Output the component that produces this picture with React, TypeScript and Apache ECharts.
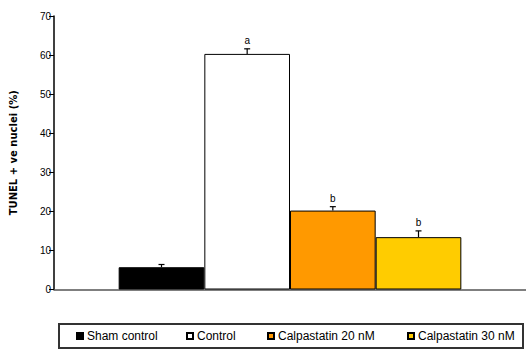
import React, { useEffect, useRef } from "react";
import * as echarts from "echarts";

const seriesNames = ["Sham control", "Control", "Calpastatin 20 nM", "Calpastatin 30 nM"];
const meanValues = [5.7, 60.3, 20.2, 13.4];
const errorValues = [0.7, 1.3, 1.0, 1.6];
const sigLetters = ["", "a", "b", "b"];
const barColors = ["#000000", "#FFFFFF", "#FF9900", "#FFCC00"];
const yTicks = { min: 0, max: 70, interval: 10 };
const yAxisTitle = "TUNEL + ve nuclei (%)";
const legendLefts = [76, 186, 267, 407];

const GAP = 0.274;

export default function App() {
  const ref = useRef<HTMLDivElement>(null);
  useEffect(() => {
    if (!ref.current) return;
    const chart = echarts.init(ref.current, null, { renderer: "svg" });
    const barSeries = seriesNames.map((name, i) => ({
      name,
      type: "bar",
      data: [meanValues[i]],
      barGap: "0%",
      barCategoryGap: GAP * 100 + "%",
      itemStyle: { color: barColors[i], borderColor: "#000", borderWidth: 1 },
    }));
    const errData = meanValues.map((m, i) => [0, m, errorValues[i], i, sigLetters[i]]);
    const option: any = {
      animation: false,
      backgroundColor: "#fff",
      grid: { left: 51, right: -7, top: 16, bottom: 59.5 },
      xAxis: {
        type: "category",
        data: ["g"],
        axisLine: { lineStyle: { color: "#555", width: 1.5 } },
        axisTick: { show: false },
        axisLabel: { show: false },
      },
      yAxis: {
        type: "value",
        min: yTicks.min,
        max: yTicks.max,
        interval: yTicks.interval,
        splitLine: { show: false },
        axisLine: { show: true, lineStyle: { color: "#000", width: 1.5 } },
        axisTick: { show: true, length: 5, lineStyle: { color: "#000" } },
        axisLabel: { color: "#000", fontSize: 10, fontFamily: "Liberation Sans, Arial", margin: 3 },
        name: yAxisTitle,
        nameLocation: "middle",
        nameGap: 36,
        nameRotate: 90,
        nameTextStyle: { color: "#000", fontSize: 10, fontWeight: "bold", fontFamily: "DejaVu Sans" },
      },
      legend: seriesNames.map((n, i) => ({
        data: [n],
        left: legendLefts[i],
        top: 330,
        padding: 0,
        itemWidth: 6,
        itemHeight: 6,
        icon: "rect",
        selectedMode: false,
        textStyle: { color: "#000", fontSize: 12, fontFamily: "Liberation Sans, Arial", padding: [0, 0, 0, -1] },
      })),
      graphic: [
        {
          type: "rect",
          shape: { x: 59, y: 324, width: 464, height: 24 },
          style: { fill: "none", stroke: "#333", lineWidth: 2 },
        },
      ],
      series: [
        ...barSeries,
        {
          type: "custom",
          data: errData,
          encode: { x: 0, y: 1 },
          z: 5,
          renderItem: (params: any, api: any) => {
            const cat = api.value(0);
            const m = api.value(1);
            const e = api.value(2);
            const idx = api.value(3);
            const letter = errData[params.dataIndex][4] as string;
            const base = api.coord([cat, 0]);
            const bandW = api.size([1, 0])[0];
            const barW = (bandW * (1 - GAP)) / 4;
            const x = base[0] + (idx - 1.5) * barW;
            const yTop = api.coord([cat, m])[1];
            const yErr = api.coord([cat, m + e])[1];
            const children: any[] = [
              { type: "line", shape: { x1: x, y1: yTop, x2: x, y2: yErr }, style: { stroke: "#000", lineWidth: 1.2 } },
              { type: "line", shape: { x1: x - 3, y1: yErr, x2: x + 3, y2: yErr }, style: { stroke: "#000", lineWidth: 1.2 } },
            ];
            if (letter) {
              children.push({
                type: "text",
                style: {
                  text: letter,
                  x: x,
                  y: yErr - 3,
                  align: "center",
                  verticalAlign: "bottom",
                  fill: "#000",
                  font: "10px 'Liberation Sans', Arial",
                },
              });
            }
            return { type: "group", children };
          },
        },
      ],
    };
    chart.setOption(option);
    return () => chart.dispose();
  }, []);
  return <div ref={ref} style={{ width: 526, height: 349, position: "absolute", left: 0, top: 0 }} />;
}
